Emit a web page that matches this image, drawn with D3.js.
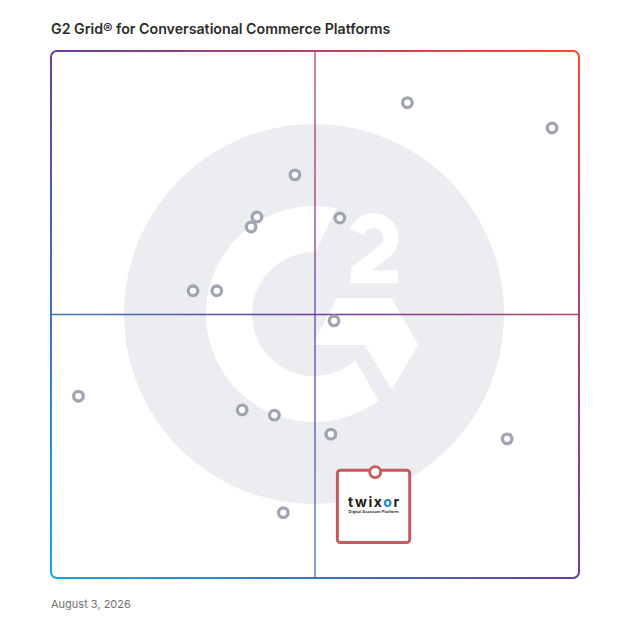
<!DOCTYPE html>
<html>
<head>
<meta charset="utf-8">
<script src="https://cdn.jsdelivr.net/npm/d3@7"></script>
<style>
  body { margin: 0; background: #fff; }
  text { font-family: Inter, "Noto Sans", sans-serif; }
</style>
</head>
<body>
<svg id="grid" width="628" height="628"></svg>
<script>
// product positions: market presence (x) and satisfaction (y), 0-100
var products = ["P1", "P2", "P3", "P4", "P5", "P6", "P7", "P8", "P9", "P10", "P11", "P12", "P13", "P14", "P15"];
var presence = [67.5, 94.9, 46.2, 39.0, 37.9, 54.7, 26.9, 31.4, 53.6, 5.2, 36.2, 42.3, 53.0, 86.4, 44.0];
var satisfaction = [90.2, 85.4, 76.5, 68.5, 66.6, 68.3, 54.5, 54.5, 48.8, 34.5, 31.9, 30.9, 27.3, 26.4, 12.4];

// highlighted product
var highlight = { name: "twixor", tagline: "Digital Assistant Platform", x: 61.4, y: 20.1 };

var title = "G2 Grid® for Conversational Commerce Platforms";
var dateLabel = "August 3, 2026";

var svg = d3.select("#grid"),
  gLeft = 51, gRight = 579, gTop = 51, gBottom = 578;

var x = d3.scaleLinear().domain([0, 100]).range([gLeft, gRight]);
var y = d3.scaleLinear().domain([0, 100]).range([gBottom, gTop]);

var data = products.map(function (p, i) {
  return { name: p, x: presence[i], y: satisfaction[i] };
});

// border gradient, bottom-left to top-right
var defs = svg.append("defs");
var grad = defs.append("linearGradient")
  .attr("id", "edge")
  .attr("gradientUnits", "userSpaceOnUse")
  .attr("x1", gLeft).attr("y1", gBottom)
  .attr("x2", gRight).attr("y2", gTop);
grad.append("stop").attr("offset", 0).attr("stop-color", "#14aae2");
grad.append("stop").attr("offset", 0.5).attr("stop-color", "#6a3c9f");
grad.append("stop").attr("offset", 1).attr("stop-color", "#ff492c");

svg.append("text")
  .attr("x", gLeft).attr("y", 34)
  .attr("font-size", 14.2)
  .attr("font-weight", 600)
  .attr("fill", "#2b2b2b")
  .text(title);

// G2 watermark
var cx = x(50), cy = y(50);
var logo = svg.append("g").attr("transform", "translate(" + (cx - 1) + "," + (cy - 0.5) + ")");
logo.append("circle").attr("r", 190).attr("fill", "#ebedf0");

function pt(r, deg) {
  var a = deg * Math.PI / 180;
  return [r * Math.cos(a), r * Math.sin(a)];
}
var o1 = pt(108, -78), i1 = pt(62, -88.4), o2 = pt(108, 53.3), i2 = pt(62, 48.2);
logo.append("path")
  .attr("fill", "#fff")
  .attr("d", "M" + o1 + "A108,108 0 1 0 " + o2 + "L" + i2 + "A62,62 0 1 1 " + i1 + "Z");

logo.append("path")
  .attr("fill", "#fff")
  .attr("d", "M22.7,-15.7L77.7,-15.7L104.3,31L77.7,76L51,31L-1.7,31Z");

// the "2"
logo.append("rect")
  .attr("x", 36.7).attr("y", -43.5).attr("width", 47.3).attr("height", 12.8)
  .attr("fill", "#fff");
logo.append("path")
  .attr("fill", "none")
  .attr("stroke", "#fff")
  .attr("stroke-width", 15)
  .attr("d", "M42.9,-81.7A17.5,17.5 0 1 1 72.7,-64.5L41,-40");

// quadrant lines
svg.append("line")
  .attr("x1", x(50)).attr("x2", x(50))
  .attr("y1", gTop).attr("y2", gBottom)
  .attr("stroke", "url(#edge)").attr("stroke-width", 1.3);
svg.append("line")
  .attr("x1", gLeft).attr("x2", gRight)
  .attr("y1", y(50)).attr("y2", y(50))
  .attr("stroke", "url(#edge)").attr("stroke-width", 1.3);

svg.append("rect")
  .attr("x", gLeft).attr("y", gTop)
  .attr("width", gRight - gLeft).attr("height", gBottom - gTop)
  .attr("rx", 6)
  .attr("fill", "none")
  .attr("stroke", "url(#edge)")
  .attr("stroke-width", 2);

svg.selectAll(".product")
  .data(data)
  .enter()
  .append("circle")
  .attr("class", "product")
  .attr("cx", function (d) { return x(d.x); })
  .attr("cy", function (d) { return y(d.y); })
  .attr("r", 4.8)
  .attr("fill", "#fff")
  .attr("stroke", "#a0a5b1")
  .attr("stroke-width", 3.3);

// highlighted product card
var hx = x(highlight.x), hy = y(highlight.y);
var card = svg.append("g").attr("transform", "translate(" + hx + "," + hy + ")");
card.append("rect")
  .attr("x", -37.8).attr("y", -1.8)
  .attr("width", 72.3).attr("height", 72.3)
  .attr("rx", 3)
  .attr("fill", "#fff")
  .attr("stroke", "#c65a5c")
  .attr("stroke-width", 3);
card.append("circle")
  .attr("r", 5.5)
  .attr("fill", "#fff")
  .attr("stroke", "#c65a5c")
  .attr("stroke-width", 2.8);

var brand = card.append("text")
  .attr("x", -1.6).attr("y", 35)
  .attr("text-anchor", "middle")
  .attr("font-size", 14)
  .attr("font-weight", 700)
  .attr("fill", "#1c1c1c")
  .attr("textLength", 51)
  .attr("lengthAdjust", "spacing");
brand.append("tspan").text(highlight.name.slice(0, 4));
brand.append("tspan").attr("fill", "#1d86c8").text(highlight.name.slice(4, 5));
brand.append("tspan").text(highlight.name.slice(5));

card.append("text")
  .attr("x", -1.6).attr("y", 41)
  .attr("text-anchor", "middle")
  .attr("font-size", 3.6)
  .attr("font-weight", 600)
  .attr("fill", "#222")
  .attr("textLength", 50)
  .attr("lengthAdjust", "spacingAndGlyphs")
  .text(highlight.tagline);

svg.append("text")
  .attr("x", gLeft).attr("y", 608)
  .attr("font-size", 11)
  .attr("fill", "#707070")
  .text(dateLabel);
</script>
</body>
</html>
